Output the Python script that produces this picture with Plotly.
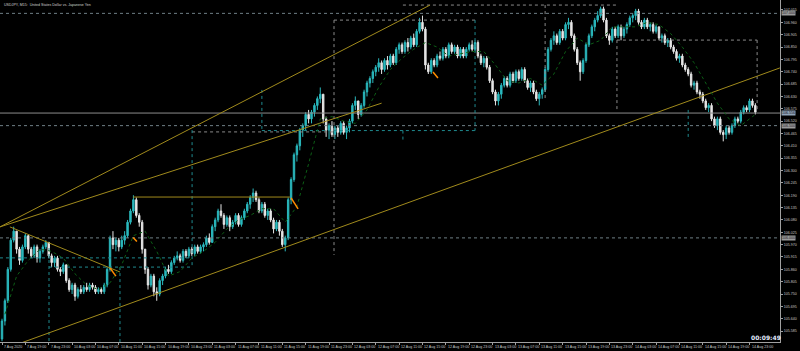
import plotly.graph_objects as go

# ---------------- data ----------------
first_open = 105.55
closes = [
    105.63, 105.72, 105.86, 105.99, 106.03, 105.95, 105.90, 105.96, 106.01, 105.95,
    105.92, 105.96, 105.91, 105.94, 105.96, 105.98, 105.92, 105.89, 105.91, 105.86,
    105.85, 105.88, 105.81, 105.77, 105.79, 105.74, 105.77, 105.76, 105.78, 105.77,
    105.79, 105.78, 105.76, 105.77, 105.76, 105.79, 105.86, 106.00, 105.97, 105.99,
    105.96, 105.99, 106.01, 106.07, 106.12, 106.17, 106.10, 106.07, 105.95, 105.86,
    105.79, 105.83, 105.76, 105.75, 105.81, 105.83, 105.86, 105.85, 105.89, 105.91,
    105.92, 105.90, 105.94, 105.92, 105.95, 105.93, 105.96, 105.94, 105.96, 105.97,
    106.00, 105.98, 106.05, 106.08, 106.12, 106.10, 106.06, 106.09, 106.05, 106.07,
    106.10, 106.06, 106.09, 106.12, 106.15, 106.18, 106.20, 106.17, 106.12, 106.15,
    106.10, 106.12, 106.08, 106.04, 106.07, 106.03, 105.97, 106.00, 106.17, 106.26,
    106.37, 106.41, 106.48, 106.50, 106.55, 106.53, 106.56, 106.59, 106.62, 106.64,
    106.53, 106.48, 106.50, 106.46, 106.49, 106.47, 106.51, 106.47, 106.49, 106.52,
    106.59, 106.61, 106.55, 106.59, 106.65, 106.69, 106.71, 106.74, 106.76, 106.78,
    106.75, 106.79, 106.77, 106.81, 106.78, 106.84, 106.86, 106.83, 106.87, 106.85,
    106.89, 106.86, 106.92, 106.96, 106.93, 106.77, 106.74, 106.79, 106.77, 106.81,
    106.80, 106.84, 106.81, 106.86, 106.83, 106.85, 106.81, 106.84, 106.81, 106.84,
    106.86, 106.84, 106.87, 106.81, 106.78, 106.80, 106.76, 106.70, 106.65, 106.61,
    106.64, 106.68, 106.71, 106.68, 106.73, 106.70, 106.74, 106.71, 106.75, 106.70,
    106.67, 106.69, 106.65, 106.62, 106.64, 106.66, 106.75, 106.84, 106.88, 106.90,
    106.87, 106.92, 106.89, 106.95, 106.96, 106.90, 106.84, 106.78, 106.74, 106.79,
    106.86, 106.90, 106.94, 106.97, 106.99, 107.02, 106.97, 106.90, 106.88, 106.93,
    106.90, 106.94, 106.90, 106.93, 106.95, 106.98, 106.99, 107.01, 106.96, 106.94,
    106.97, 106.94, 106.95, 106.92, 106.94, 106.89, 106.90, 106.87, 106.88, 106.85,
    106.83, 106.80, 106.81, 106.77, 106.75, 106.73, 106.68, 106.69, 106.65, 106.64,
    106.61, 106.58, 106.59, 106.53, 106.50, 106.53, 106.47, 106.46, 106.49, 106.47,
    106.50, 106.53, 106.52, 106.56, 106.58, 106.57, 106.61, 106.59, 106.56,
]
highs = [
    105.64, 105.73, 105.87, 106.00, 106.05, 106.03, 105.96, 105.97, 106.02, 106.01,
    105.96, 105.97, 105.97, 105.95, 105.97, 105.99, 105.98, 105.93, 105.92, 105.92,
    105.87, 105.89, 105.88, 105.82, 105.80, 105.80, 105.78, 105.79, 105.79, 105.80,
    105.80, 105.80, 105.79, 105.78, 105.78, 105.80, 105.87, 106.01, 106.03, 106.00,
    106.00, 106.01, 106.03, 106.08, 106.13, 106.19, 106.18, 106.11, 106.08, 105.95,
    105.87, 105.84, 105.84, 105.78, 105.82, 105.84, 105.87, 105.88, 105.90, 105.92,
    105.94, 105.93, 105.95, 105.95, 105.96, 105.96, 105.97, 105.97, 105.97, 105.98,
    106.01, 106.02, 106.06, 106.09, 106.13, 106.15, 106.11, 106.10, 106.10, 106.08,
    106.11, 106.11, 106.10, 106.13, 106.16, 106.19, 106.22, 106.21, 106.18, 106.16,
    106.16, 106.13, 106.13, 106.09, 106.08, 106.08, 106.04, 106.01, 106.18, 106.27,
    106.38, 106.42, 106.49, 106.51, 106.56, 106.57, 106.57, 106.60, 106.63, 106.67,
    106.64, 106.54, 106.51, 106.52, 106.50, 106.50, 106.52, 106.52, 106.50, 106.53,
    106.60, 106.63, 106.61, 106.60, 106.66, 106.70, 106.72, 106.75, 106.77, 106.80,
    106.79, 106.80, 106.81, 106.82, 106.82, 106.85, 106.87, 106.87, 106.88, 106.89,
    106.90, 106.91, 106.93, 106.98, 106.99, 106.94, 106.78, 106.80, 106.80, 106.82,
    106.83, 106.85, 106.85, 106.87, 106.87, 106.86, 106.86, 106.85, 106.85, 106.85,
    106.87, 106.88, 106.88, 106.88, 106.82, 106.81, 106.81, 106.77, 106.71, 106.66,
    106.65, 106.69, 106.72, 106.72, 106.74, 106.74, 106.75, 106.75, 106.76, 106.76,
    106.71, 106.70, 106.70, 106.66, 106.65, 106.67, 106.76, 106.85, 106.89, 106.92,
    106.91, 106.93, 106.93, 106.96, 106.98, 106.97, 106.91, 106.85, 106.79, 106.80,
    106.87, 106.91, 106.95, 106.98, 107.01, 107.03, 107.03, 106.98, 106.91, 106.94,
    106.94, 106.95, 106.95, 106.94, 106.96, 106.99, 107.00, 107.02, 107.02, 106.97,
    106.98, 106.98, 106.96, 106.96, 106.95, 106.94, 106.91, 106.91, 106.89, 106.89,
    106.86, 106.84, 106.82, 106.82, 106.78, 106.76, 106.74, 106.70, 106.70, 106.66,
    106.65, 106.62, 106.60, 106.60, 106.54, 106.54, 106.54, 106.48, 106.50, 106.50,
    106.51, 106.54, 106.54, 106.57, 106.59, 106.59, 106.62, 106.62, 106.60,
]
lows = [
    105.54, 105.61, 105.71, 105.85, 105.98, 105.93, 105.88, 105.89, 105.95, 105.93,
    105.91, 105.91, 105.89, 105.89, 105.93, 105.95, 105.91, 105.87, 105.87, 105.85,
    105.83, 105.84, 105.80, 105.76, 105.75, 105.72, 105.73, 105.75, 105.75, 105.76,
    105.76, 105.77, 105.75, 105.75, 105.75, 105.75, 105.78, 105.85, 105.95, 105.94,
    105.94, 105.95, 105.97, 106.00, 106.06, 106.11, 106.09, 106.05, 105.93, 105.84,
    105.77, 105.78, 105.74, 105.72, 105.74, 105.79, 105.82, 105.84, 105.84, 105.88,
    105.90, 105.89, 105.89, 105.91, 105.91, 105.92, 105.92, 105.93, 105.93, 105.94,
    105.96, 105.97, 105.98, 106.03, 106.07, 106.09, 106.04, 106.05, 106.03, 106.04,
    106.06, 106.05, 106.05, 106.08, 106.11, 106.13, 106.16, 106.16, 106.11, 106.11,
    106.09, 106.08, 106.07, 106.02, 106.03, 106.01, 105.96, 105.94, 105.99, 106.15,
    106.25, 106.34, 106.39, 106.45, 106.48, 106.51, 106.51, 106.54, 106.57, 106.60,
    106.51, 106.45, 106.44, 106.45, 106.44, 106.45, 106.46, 106.46, 106.44, 106.47,
    106.51, 106.57, 106.53, 106.54, 106.58, 106.63, 106.67, 106.69, 106.72, 106.74,
    106.73, 106.74, 106.75, 106.76, 106.77, 106.77, 106.82, 106.82, 106.82, 106.83,
    106.84, 106.85, 106.85, 106.91, 106.92, 106.75, 106.73, 106.73, 106.76, 106.76,
    106.79, 106.79, 106.80, 106.80, 106.82, 106.82, 106.80, 106.80, 106.80, 106.80,
    106.83, 106.83, 106.83, 106.80, 106.77, 106.76, 106.75, 106.69, 106.64, 106.59,
    106.59, 106.62, 106.67, 106.67, 106.67, 106.69, 106.69, 106.70, 106.70, 106.69,
    106.66, 106.65, 106.64, 106.61, 106.59, 106.62, 106.65, 106.74, 106.83, 106.86,
    106.86, 106.86, 106.88, 106.88, 106.93, 106.89, 106.83, 106.77, 106.70, 106.73,
    106.78, 106.85, 106.89, 106.92, 106.96, 106.98, 106.96, 106.89, 106.86, 106.87,
    106.89, 106.89, 106.88, 106.89, 106.91, 106.94, 106.96, 106.97, 106.95, 106.93,
    106.93, 106.93, 106.92, 106.91, 106.91, 106.88, 106.87, 106.86, 106.85, 106.84,
    106.82, 106.79, 106.78, 106.76, 106.74, 106.72, 106.67, 106.66, 106.64, 106.62,
    106.60, 106.57, 106.56, 106.52, 106.49, 106.48, 106.46, 106.43, 106.44, 106.46,
    106.46, 106.49, 106.51, 106.51, 106.55, 106.56, 106.56, 106.58, 106.55,
]
opens = [first_open] + closes[:-1]
bars = list(range(len(closes)))

# moving average (dark green dotted), read at every 4th bar
ma_bars = [1, 5, 9, 13, 17, 21, 25, 29, 33, 37, 41, 45, 49, 53, 57, 61, 65, 69, 73, 77,
           81, 85, 89, 93, 97, 101, 105, 109, 113, 117, 121, 125, 129, 133, 137, 141,
           145, 149, 153, 157, 161, 165, 169, 173, 177, 181, 185, 189, 193, 197, 201,
           205, 209, 213, 217, 221, 225, 229, 233, 237, 241, 245, 249, 253, 257, 258]
ma_values = [105.66, 105.83, 105.90, 105.95, 105.94, 105.91, 105.84, 105.79, 105.77, 105.80,
             105.88, 106.01, 106.03, 105.94, 105.83, 105.85, 105.91, 105.94, 105.98, 106.04,
             106.08, 106.10, 106.13, 106.13, 106.07, 106.14, 106.33, 106.53, 106.54, 106.52,
             106.51, 106.57, 106.67, 106.75, 106.80, 106.84, 106.87, 106.85, 106.81, 106.82,
             106.83, 106.83, 106.77, 106.70, 106.69, 106.71, 106.68, 106.73, 106.83, 106.89,
             106.86, 106.88, 106.94, 106.94, 106.94, 106.96, 106.95, 106.91, 106.85, 106.78,
             106.69, 106.60, 106.53, 106.50, 106.54, 106.55]

# time axis labels (every 8 bars)
time_labels = ["7 Aug 2020", "7 Aug 19:00", "7 Aug 23:00",
               "10 Aug 03:00", "10 Aug 07:00", "10 Aug 11:00", "10 Aug 15:00", "10 Aug 19:00", "10 Aug 23:00",
               "11 Aug 03:00", "11 Aug 07:00", "11 Aug 11:00", "11 Aug 15:00", "11 Aug 19:00", "11 Aug 23:00",
               "12 Aug 03:00", "12 Aug 07:00", "12 Aug 11:00", "12 Aug 15:00", "12 Aug 19:00", "12 Aug 23:00",
               "13 Aug 03:00", "13 Aug 07:00", "13 Aug 11:00", "13 Aug 15:00", "13 Aug 19:00", "13 Aug 23:00",
               "14 Aug 03:00", "14 Aug 07:00", "14 Aug 11:00", "14 Aug 15:00", "14 Aug 19:00", "14 Aug 23:00"]
time_label_bars = [8 * j for j in range(len(time_labels))]

# price axis labels
price_ticks = [107.015, 106.960, 106.905, 106.850, 106.795, 106.740, 106.685, 106.630, 106.575,
               106.520, 106.465, 106.410, 106.355, 106.300, 106.245, 106.190, 106.135, 106.080,
               106.025, 105.970, 105.915, 105.860, 105.805, 105.750, 105.695, 105.640, 105.585]
price_ticktext = [f"{v:.3f}" for v in price_ticks]

# round-number levels (dotted) and bid
round_levels = [107.000, 106.500, 106.000]
bid_price = 106.556

# trend lines: (bar_start, price_start, bar_end, price_end)
gold_lines = {
    "fan_steep": (-0.7, 106.049, 146.6, 107.037),
    "fan_mid": (-0.7, 106.049, 130.0, 106.600),
    "fan_down": (2.7, 106.049, 40.4, 105.848),
    "channel_low": (-0.7, 105.498, 266.4, 106.757),
    "range_top": (44.9, 106.182, 98.6, 106.182),
}
orange_marks = [
    (37.0, 105.866, 39.0, 105.830),
    (44.9, 106.002, 46.2, 105.984),
    (99.0, 106.178, 101.4, 106.129),
    (147.6, 106.739, 149.3, 106.712),
]
# session boxes / dotted segments: (bar_start, price_start, bar_end, price_end)
teal_segments = [
    (16.1, 105.955, 16.1, 105.536),
    (-0.7, 105.911, 65.1, 105.911),
    (16.1, 105.870, 65.1, 105.870),
    (40.4, 105.870, 40.4, 105.536),
    (65.1, 106.480, 65.1, 105.870),
    (89.0, 106.478, 162.0, 106.478),
    (162.0, 106.970, 162.0, 106.478),
    (137.3, 106.478, 137.3, 106.428),
    (89.0, 106.659, 89.0, 106.478),
    (235.0, 106.570, 235.0, 106.436),
]
gray_segments = [
    (113.7, 106.970, 113.7, 105.924),
    (113.7, 106.970, 162.0, 106.970),
    (65.1, 106.472, 113.7, 106.472),
    (137.3, 107.037, 210.6, 107.037),
    (186.0, 107.037, 186.0, 106.614),
    (210.6, 106.881, 258.6, 106.881),
    (258.6, 106.881, 258.6, 106.570),
    (210.6, 106.881, 210.6, 106.570),
]

X0, X1 = -0.685, 266.44
Y0, Y1 = 105.5364, 107.0595

fig = go.Figure()

def seg(x0, y0, x1, y1, color, dash="solid", width=1):
    fig.add_trace(go.Scatter(x=[x0, x1], y=[y0, y1], mode="lines",
                             line=dict(color=color, width=width, dash=dash),
                             hoverinfo="skip", showlegend=False))

for p in round_levels:
    seg(X0, p, X1, p, "#6f7f86", dash="dot")
seg(X0, bid_price, X1, bid_price, "#8c8c8c")

for s in gray_segments:
    seg(*s, "#8a8a8a", dash="dot")
for s in teal_segments:
    seg(*s, "#1f8a8f", dash="dot")

for name, s in gold_lines.items():
    seg(*s, "#a08a1c")

fig.add_trace(go.Scatter(x=ma_bars, y=ma_values, mode="lines",
                         line=dict(color="#0c5e16", width=1, dash="dot"),
                         hoverinfo="skip", showlegend=False))

fig.add_trace(go.Candlestick(
    x=bars, open=opens, high=highs, low=lows, close=closes,
    increasing=dict(line=dict(color="#2ab8bd", width=1), fillcolor="#2ab8bd"),
    decreasing=dict(line=dict(color="#e6e6e6", width=1), fillcolor="#e6e6e6"),
    showlegend=False, hoverinfo="skip"))

for s in orange_marks:
    seg(*s, "#ff8c00", width=1.5)

annotations = []
for lbl, b in zip(time_labels, time_label_bars):
    annotations.append(dict(x=b, y=0, xref="x", yref="paper", text=lbl, showarrow=False,
                            xanchor="left", yanchor="top", xshift=0, yshift=-1,
                            font=dict(size=3.6, color="#c8c8c8", family="Liberation Sans")))
annotations.append(dict(x=0.003, y=0.997, xref="paper", yref="paper",
                        text="USDJPY, M15:  United States Dollar vs. Japanese Yen",
                        showarrow=False, xanchor="left", yanchor="top",
                        font=dict(size=3.6, color="#d0d0d0", family="Liberation Sans")))
for p in round_levels:
    annotations.append(dict(x=1, y=p, xref="paper", yref="y", text=f"{p:.3f}", showarrow=False,
                            xanchor="left", yanchor="middle", xshift=1,
                            bgcolor="#9a9a9a", borderpad=0,
                            font=dict(size=3.6, color="#202020", family="Liberation Sans")))
annotations.append(dict(x=1, y=bid_price, xref="paper", yref="y", text=f"{bid_price:.3f}",
                        showarrow=False, xanchor="left", yanchor="middle", xshift=1,
                        bgcolor="#8fa3b8", borderpad=0,
                        font=dict(size=3.6, color="#101010", family="Liberation Sans")))
annotations.append(dict(x=0.982, y=0.012, xref="paper", yref="paper", text="<b>00:09:49</b>",
                        showarrow=False, xanchor="center", yanchor="middle",
                        font=dict(size=6, color="#e4ecff", family="DejaVu Sans")))

fig.update_layout(
    width=800, height=351,
    margin=dict(l=0, r=20, t=0, b=9),
    paper_bgcolor="#000000", plot_bgcolor="#000000",
    showlegend=False,
    annotations=annotations,
    xaxis=dict(range=[X0, X1], showgrid=False, zeroline=False, rangeslider=dict(visible=False),
               showline=True, linecolor="#a0a0a0", linewidth=1,
               ticks="outside", ticklen=2, tickcolor="#a0a0a0",
               tickvals=time_label_bars, showticklabels=False, fixedrange=True),
    yaxis=dict(range=[Y0, Y1], side="right", showgrid=False, zeroline=False,
               showline=True, linecolor="#a0a0a0", linewidth=1, mirror=True,
               ticks="outside", ticklen=2, tickcolor="#a0a0a0",
               tickvals=price_ticks, ticktext=price_ticktext,
               tickfont=dict(size=3.6, color="#c8c8c8", family="Liberation Sans"),
               fixedrange=True),
)

fig.write_html("out.html")
